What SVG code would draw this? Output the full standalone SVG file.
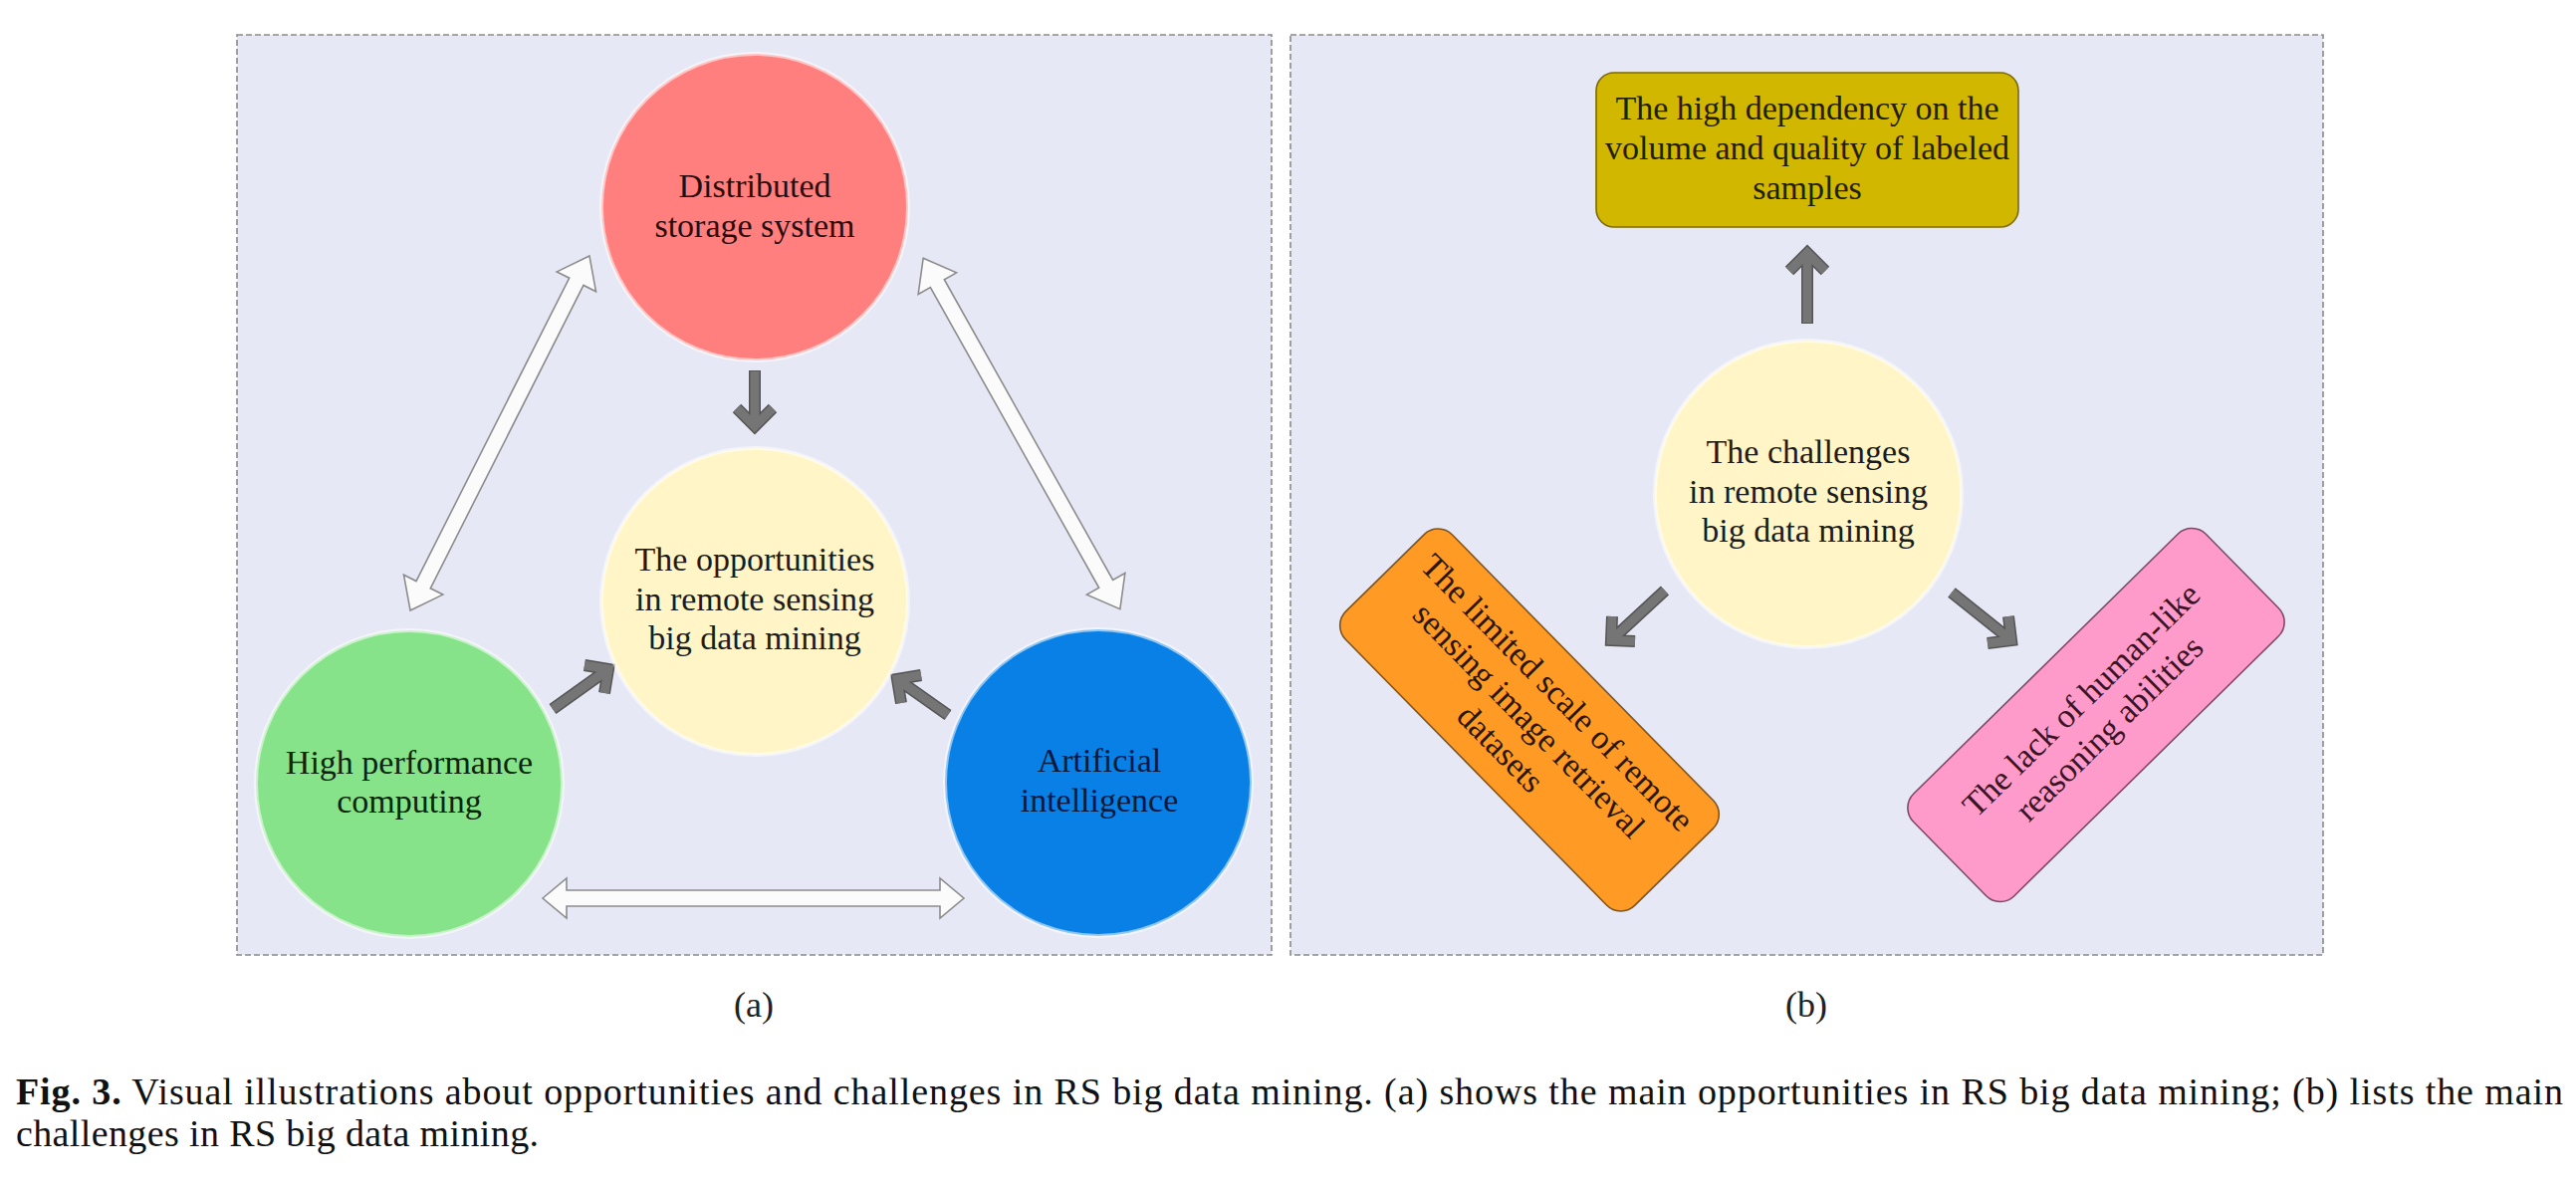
<svg xmlns="http://www.w3.org/2000/svg" width="2587" height="1191" viewBox="0 0 2587 1191">
  <style>
    .panel { fill: #e6e8f5; stroke: #8a8a8a; stroke-width: 1.6; stroke-dasharray: 6 3; }
    .lbl { font-family: "Liberation Serif", "Times New Roman", serif; font-size: 34px; text-anchor: middle; fill: #1c1c1c; }
    .circ { stroke: #ffffff; stroke-opacity: 0.55; stroke-width: 4; }
    .box { stroke-width: 1.6; }
    .warrow { fill: #fbfbfb; stroke: #8c8c8c; stroke-width: 1.6; stroke-linejoin: miter; }
    .gout { fill: none; stroke: #555555; stroke-width: 12; stroke-linecap: butt; stroke-linejoin: miter; }
    .gin { fill: none; stroke: #757575; stroke-width: 9; stroke-linecap: butt; stroke-linejoin: miter; }
    .cap { font-family: "Liberation Serif", "Times New Roman", serif; font-size: 38px; fill: #111111; }
    .sub { font-family: "Liberation Serif", "Times New Roman", serif; font-size: 36px; text-anchor: middle; fill: #222222; }
  </style>

  <rect width="2587" height="1191" fill="#ffffff"/>

  <!-- panels -->
  <g id="panel-a">
    <rect class="panel" x="238" y="35" width="1039" height="924"/>
  </g>
  <g id="panel-b">
    <rect class="panel" x="1296" y="35" width="1037" height="924"/>
  </g>

  <!-- connectors -->
  <g id="connectors">
    <!-- white double arrows (panel a) -->
    <polygon class="warrow" transform="translate(502 435) rotate(-63.2)"
      points="-199.5,0 -170.5,-22 -170.5,-8 170.5,-8 170.5,-22 199.5,0 170.5,22 170.5,8 -170.5,8 -170.5,22"/>
    <polygon class="warrow" transform="translate(1026 435.5) rotate(60.7)"
      points="-202,0 -173,-22 -173,-8 173,-8 173,-22 202,0 173,22 173,8 -173,8 -173,22"/>
    <polygon class="warrow" transform="translate(756.5 902)"
      points="-211.5,0 -187.5,-20 -187.5,-8 187.5,-8 187.5,-20 211.5,0 187.5,20 187.5,8 -187.5,8 -187.5,20"/>

    <!-- gray arrows (panel a) -->
    <g>
      <path class="gout" d="M758,372 V428 M740,410 L758,428 L776,410"/>
      <path class="gin" d="M758,373 V428 M740,410 L758,428 L776,410"/>
      <path class="gout" d="M555,712 L611,672 M587,668 L611,672 L607,696"/>
      <path class="gin" d="M555,712 L611,672 M587,668 L611,672 L607,696"/>
      <path class="gout" d="M952,718 L901,682 M905,706 L901,682 L925,678"/>
      <path class="gin" d="M952,718 L901,682 M905,706 L901,682 L925,678"/>
    </g>

    <!-- gray arrows (panel b) -->
    <g>
      <path class="gout" d="M1815,325 V254 M1797,272 L1815,254 L1833,272"/>
      <path class="gin" d="M1815,324 V254 M1797,272 L1815,254 L1833,272"/>
      <path class="gout" d="M1672,593 L1618,643 M1642,644 L1618,643 L1619,619"/>
      <path class="gin" d="M1672,593 L1618,643 M1642,644 L1618,643 L1619,619"/>
      <path class="gout" d="M1960,595 L2020,643 M2017,619 L2020,643 L1996,646"/>
      <path class="gin" d="M1960,595 L2020,643 M2017,619 L2020,643 L1996,646"/>
    </g>
  </g>

  <!-- panel a nodes -->
  <g id="node-distributed">
    <circle class="circ" cx="758" cy="208" r="154" fill="#ff7f7e"/>
    <text class="lbl" style="fill:#2a0c0c"><tspan x="758" y="198">Distributed</tspan><tspan x="758" y="238">storage system</tspan></text>
  </g>
  <g id="node-opportunities">
    <circle class="circ" cx="758" cy="604" r="154" fill="#fff5c6"/>
    <text class="lbl"><tspan x="758" y="573">The opportunities</tspan><tspan x="758" y="613">in remote sensing</tspan><tspan x="758" y="652">big data mining</tspan></text>
  </g>
  <g id="node-hpc">
    <circle class="circ" cx="411" cy="787" r="154" fill="#87e38a"/>
    <text class="lbl" style="fill:#0c260c"><tspan x="411" y="777">High performance</tspan><tspan x="411" y="816">computing</tspan></text>
  </g>
  <g id="node-ai">
    <circle class="circ" cx="1103" cy="786" r="154" fill="#0880e5"/>
    <text class="lbl" style="fill:#071a3c"><tspan x="1104" y="775">Artificial</tspan><tspan x="1104" y="815">intelligence</tspan></text>
  </g>

  <!-- panel b nodes -->
  <g id="node-dependency">
    <rect class="box" x="1603" y="73" width="424" height="155" rx="18" fill="#d2b700" stroke="#7a6a08"/>
    <text class="lbl" style="fill:#231e02"><tspan x="1815" y="120">The high dependency on the</tspan><tspan x="1815" y="160">volume and quality of labeled</tspan><tspan x="1815" y="200">samples</tspan></text>
  </g>
  <g id="node-challenges">
    <circle class="circ" cx="1816" cy="496" r="154" fill="#fff5c6"/>
    <text class="lbl"><tspan x="1816" y="465">The challenges</tspan><tspan x="1816" y="505">in remote sensing</tspan><tspan x="1816" y="544">big data mining</tspan></text>
  </g>
  <g id="node-limited" transform="translate(1536 723) rotate(45.5)">
    <rect class="box" x="-207" y="-75" width="414" height="150" rx="20" fill="#ff9a24" stroke="#7d5420"/>
    <text class="lbl" style="fill:#2a1604"><tspan x="0" y="-28">The limited scale of remote</tspan><tspan x="0" y="12">sensing image retrieval</tspan><tspan x="0" y="52">datasets</tspan></text>
  </g>
  <g id="node-lack" transform="translate(2105 718) rotate(-44.5)">
    <rect class="box" x="-206" y="-72" width="412" height="144" rx="20" fill="#ff9bca" stroke="#7d4a66"/>
    <text class="lbl" style="fill:#3a1424"><tspan x="0" y="-10">The lack of human-like</tspan><tspan x="0" y="30">reasoning abilities</tspan></text>
  </g>

  <!-- sub labels -->
  <g id="sublabels">
    <text class="sub" x="757" y="1021">(a)</text>
    <text class="sub" x="1814" y="1021">(b)</text>
  </g>

  <!-- caption -->
  <g id="caption">
    <text class="cap" x="16" y="1109" textLength="2558" lengthAdjust="spacing"><tspan font-weight="bold">Fig. 3.</tspan> Visual illustrations about opportunities and challenges in RS big data mining. (a) shows the main opportunities in RS big data mining; (b) lists the main</text>
    <text class="cap" x="16" y="1151" textLength="525" lengthAdjust="spacing">challenges in RS big data mining.</text>
  </g>
</svg>
